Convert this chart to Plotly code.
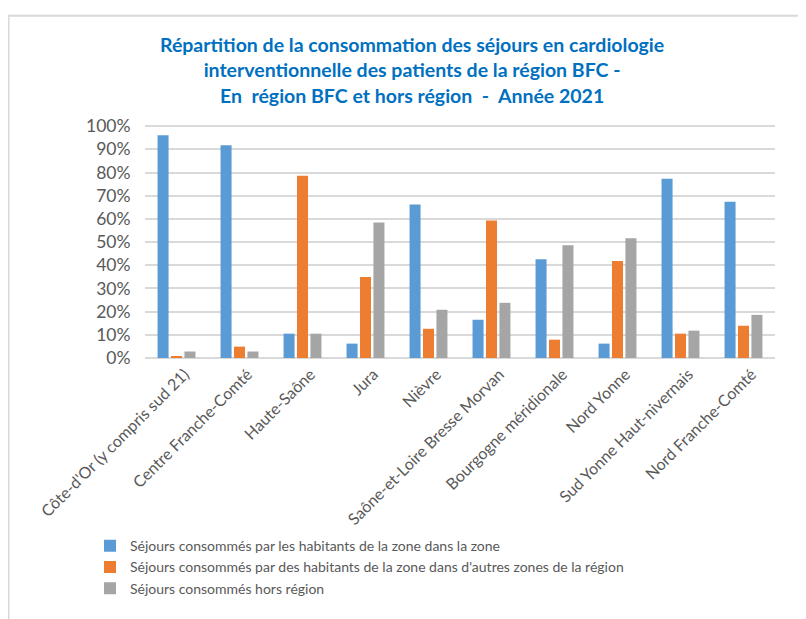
import plotly.graph_objects as go

categories = ["Côte-d'Or (y compris sud 21)", "Centre Franche-Comté", "Haute-Saône", "Jura",
              "Nièvre", "Saône-et-Loire Bresse Morvan", "Bourgogne méridionale", "Nord Yonne",
              "Sud Yonne Haut-nivernais", "Nord Franche-Comté"]
dans_zone = [0.961, 0.918, 0.105, 0.062, 0.662, 0.165, 0.426, 0.062, 0.773, 0.674]
autres_zones = [0.006, 0.049, 0.786, 0.349, 0.126, 0.593, 0.079, 0.418, 0.105, 0.139]
hors_region = [0.028, 0.028, 0.105, 0.584, 0.208, 0.238, 0.486, 0.516, 0.118, 0.186]
series_names = ["Séjours consommés par les habitants de la zone dans la zone",
                "Séjours consommés par des habitants de la zone dans d'autres zones de la région",
                "Séjours consommés hors région"]
colors = ["#5B9BD5", "#ED7D31", "#A5A5A5"]
tick_vals = [0, 0.1, 0.2, 0.3, 0.4, 0.5, 0.6, 0.7, 0.8, 0.9, 1.0]
tick_text = ["0%", "10%", "20%", "30%", "40%", "50%", "60%", "70%", "80%", "90%", "100%"]
title_text = ("Répartition de la consommation des séjours en cardiologie<br>"
              "interventionnelle des patients de la région BFC -<br>"
              "En  région BFC et hors région  -  Année 2021")

FONT = "Lato, Open Sans, sans-serif"
fig = go.Figure()
for name, vals, col in zip(series_names, [dans_zone, autres_zones, hors_region], colors):
    fig.add_trace(go.Bar(x=categories, y=vals, name=name, marker_color=col, marker_line_width=0))

OFF = 8  # page body margin
W, H = 806 - OFF, 619 - OFF
# screen-pixel layout targets
SL, SR, ST, SB = 145, 775, 125, 358.5
L, T = SL - OFF, ST - OFF
R = W - (SR - OFF)
B = H - (SB - OFF)
pw, ph = W - L - R, H - T - B

def px_x(p):
    return (p - OFF - L) / pw

def px_y(p):
    return (SB - p) / ph

fig.update_layout(
    width=W, height=H,
    margin=dict(l=L, r=R, t=T, b=B, autoexpand=False),
    paper_bgcolor="white", plot_bgcolor="white",
    barmode="group", bargap=0.36, bargroupgap=0.18,
    font=dict(family=FONT, color="#595959"),
    showlegend=True,
    legend=dict(orientation="v", x=px_x(90), xanchor="left", y=px_y(531), yanchor="top",
                font=dict(size=14, color="#595959", family=FONT), traceorder="normal",
                bgcolor="rgba(0,0,0,0)"),
    xaxis=dict(tickangle=-45, tickfont=dict(size=16, color="#595959", family=FONT),
               showgrid=False, showline=False, ticks="",
               ticklabelshift=8, ticklabelstandoff=3),
    yaxis=dict(range=[0, 1.005], tickvals=tick_vals, ticktext=tick_text,
               tickfont=dict(size=17.5, color="#595959", family=FONT),
               showgrid=True, gridcolor="#D9D9D9", gridwidth=2,
               zeroline=True, zerolinecolor="#D9D9D9", zerolinewidth=2,
               showline=False, ticks="outside", ticklen=10, tickcolor="rgba(0,0,0,0)"),
    annotations=[dict(text=title_text, xref="paper", yref="paper", x=px_x(412), y=px_y(70),
                      xanchor="center", yanchor="middle", showarrow=False, align="center",
                      font=dict(size=19.5, color="#0070C0", family=FONT, weight="bold"))],
    shapes=[dict(type="rect", xref="paper", yref="paper",
                 x0=px_x(8.5), x1=px_x(830), y0=px_y(640), y1=px_y(15.5),
                 line=dict(color="#D9D9D9", width=2), fillcolor="rgba(0,0,0,0)", layer="below")],
)
fig.write_html("out.html")
